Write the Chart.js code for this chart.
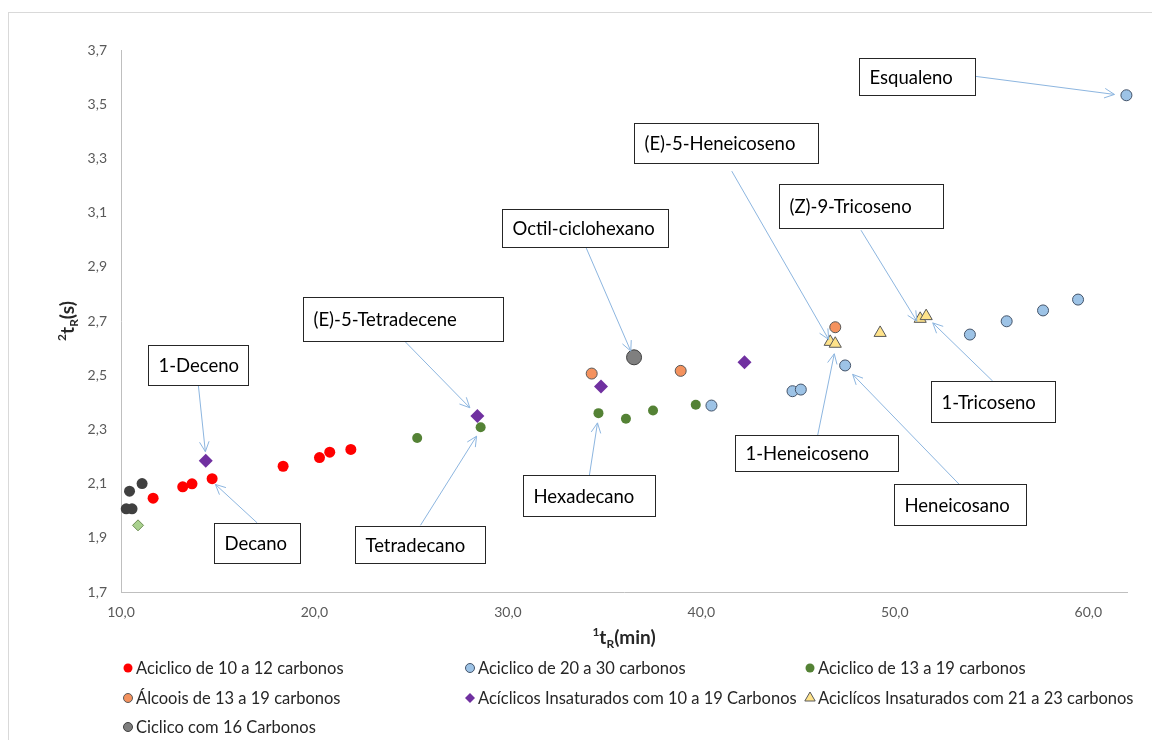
<!DOCTYPE html>
<html>
<head>
<meta charset="utf-8">
<script src="https://cdn.jsdelivr.net/npm/chart.js@4.4.1/dist/chart.umd.min.js"></script>
<style>
  html, body { margin: 0; padding: 0; background: #fff; }
  #wrap { position: relative; width: 1152px; height: 740px; overflow: hidden; }
</style>
</head>
<body>
<div id="wrap"><canvas id="chart" width="1152" height="740"></canvas></div>
<script>
// 1tR (min) / 2tR (s) por classe de composto
const acicl10_12X = [11.66, 13.19, 13.67, 14.71, 18.38, 20.26, 20.79, 21.88];
const acicl10_12Y = [2.046, 2.088, 2.099, 2.118, 2.164, 2.196, 2.216, 2.226];
const acicl20_30X = [40.52, 44.71, 45.14, 47.43, 53.88, 55.78, 57.66, 59.47, 61.97];
const acicl20_30Y = [2.388, 2.441, 2.447, 2.536, 2.650, 2.699, 2.739, 2.779, 3.533];
const acicl13_19X = [25.31, 28.59, 34.68, 36.10, 37.50, 39.71];
const acicl13_19Y = [2.268, 2.308, 2.360, 2.339, 2.370, 2.391];
const alcooisX = [34.33, 38.93, 46.92];
const alcooisY = [2.506, 2.516, 2.677];
const insat10_19X = [14.38, 28.42, 34.81, 42.23];
const insat10_19Y = [2.184, 2.349, 2.458, 2.548];
const insat21_23X = [46.66, 46.92, 49.24, 51.31, 51.62];
const insat21_23Y = [2.623, 2.616, 2.656, 2.708, 2.718];
const ciclico16X = [36.52];
const ciclico16Y = [2.566];
// series sem entrada na legenda
const semLegendaX = [10.27, 10.57, 10.44, 11.09];
const semLegendaY = [2.007, 2.007, 2.072, 2.100];
const semLegenda2X = [10.88];
const semLegenda2Y = [1.946];

const xTicks = [10, 20, 30, 40, 50, 60];
const yTicks = [1.7, 1.9, 2.1, 2.3, 2.5, 2.7, 2.9, 3.1, 3.3, 3.5, 3.7];

// caixas de texto (canto superior esquerdo em unidades do grafico) e setas
const anotacoes = [
  { text: 'Esqualeno', box: [48.14, 3.672], w: 116, h: 37, from: [54.14, 3.603], to: [61.35, 3.536] },
  { text: '(E)-5-Heneicoseno', box: [36.50, 3.432], w: 184, h: 40, from: [41.57, 3.253], to: [46.58, 2.632] },
  { text: '(Z)-9-Tricoseno', box: [44.00, 3.204], w: 164, h: 44, from: [48.25, 3.035], to: [51.14, 2.699] },
  { text: 'Octil-ciclohexano', box: [29.67, 3.115], w: 166, h: 38, from: [34.02, 2.974], to: [36.35, 2.589] },
  { text: '(E)-5-Tetradecene', box: [19.43, 2.787], w: 200, h: 44, from: [24.67, 2.625], to: [28.03, 2.380] },
  { text: '1-Deceno', box: [11.41, 2.613], w: 100, h: 40, from: [14.00, 2.462], to: [14.36, 2.218] },
  { text: 'Decano', box: [14.83, 1.956], w: 86, h: 40, from: [17.04, 1.955], to: [14.88, 2.097] },
  { text: 'Tetradecano', box: [22.07, 1.945], w: 130, h: 37, from: [25.48, 1.946], to: [28.38, 2.275] },
  { text: 'Hexadecano', box: [30.76, 2.130], w: 132, h: 41, from: [34.21, 2.130], to: [34.63, 2.324] },
  { text: '1-Heneicoseno', box: [41.73, 2.278], w: 163, h: 36, from: [46.01, 2.278], to: [46.87, 2.579] },
  { text: 'Heneicosano', box: [49.95, 2.097], w: 132, h: 41, from: [53.33, 2.097], to: [47.82, 2.503] },
  { text: '1-Tricoseno', box: [51.87, 2.477], w: 124, h: 41, from: [55.06, 2.478], to: [51.96, 2.693] }
];

const pts = (xs, ys) => xs.map((x, i) => ({ x: x, y: ys[i] }));
const FONT = 'Lato, "Open Sans", sans-serif';

const datasets = [
  { label: 'Aciclico de 10 a 12 carbonos', data: pts(acicl10_12X, acicl10_12Y), pointStyle: 'circle', radius: 5.5,
    backgroundColor: '#FF0000', borderColor: '#FF0000', borderWidth: 0, legenda: true },
  { label: 'Aciclico de 20 a 30 carbonos', data: pts(acicl20_30X, acicl20_30Y), pointStyle: 'circle', radius: 5.5,
    backgroundColor: '#9DC3E6', borderColor: '#44546A', borderWidth: 1, legenda: true },
  { label: 'Aciclico de 13 a 19 carbonos', data: pts(acicl13_19X, acicl13_19Y), pointStyle: 'circle', radius: 5,
    backgroundColor: '#548235', borderColor: '#548235', borderWidth: 0, legenda: true },
  { label: 'Álcoois de 13 a 19 carbonos', data: pts(alcooisX, alcooisY), pointStyle: 'circle', radius: 5.5,
    backgroundColor: '#F4925E', borderColor: '#595959', borderWidth: 1, legenda: true },
  { label: 'Acíclicos Insaturados com 10 a 19 Carbonos', data: pts(insat10_19X, insat10_19Y), pointStyle: 'rectRot', radius: 7,
    backgroundColor: '#7030A0', borderColor: '#7030A0', borderWidth: 0, legenda: true },
  { label: 'Aciclícos Insaturados com 21 a 23 carbonos', data: pts(insat21_23X, insat21_23Y), pointStyle: 'triangle', radius: 7,
    backgroundColor: '#FFE38A', borderColor: '#595959', borderWidth: 1, legenda: true },
  { label: 'Ciclico com 16 Carbonos', data: pts(ciclico16X, ciclico16Y), pointStyle: 'circle', radius: 7.5,
    backgroundColor: '#7F7F7F', borderColor: '#404040', borderWidth: 1, legenda: true },
  { label: 'sem legenda 1', data: pts(semLegendaX, semLegendaY), pointStyle: 'circle', radius: 5.5,
    backgroundColor: '#404040', borderColor: '#404040', borderWidth: 0, legenda: false },
  { label: 'sem legenda 2', data: pts(semLegenda2X, semLegenda2Y), pointStyle: 'rectRot', radius: 5.5,
    backgroundColor: '#A9D18E', borderColor: '#6E8F55', borderWidth: 1, legenda: false }
];
datasets.forEach(d => {
  d.pointRadius = d.radius;
  d.pointHoverRadius = d.radius;
  d.pointBorderWidth = d.borderWidth;
  d.clip = false;
});

function richText(ctx, parts, cx, cy) {
  const big = 'bold 19px ' + FONT, small = 'bold 12px ' + FONT;
  let total = 0;
  parts.forEach(p => { ctx.font = p.s ? small : big; p.w = ctx.measureText(p.t).width; total += p.w; });
  let x = cx - total / 2;
  ctx.textBaseline = 'alphabetic';
  ctx.textAlign = 'left';
  parts.forEach(p => {
    ctx.font = p.s ? small : big;
    const dy = p.s === 'sup' ? -8 : (p.s === 'sub' ? 4 : 0);
    ctx.fillText(p.t, x, cy + 7 + dy);
    x += p.w;
  });
}

const extras = {
  id: 'extras',
  beforeDraw(chart) {
    const ctx = chart.ctx;
    ctx.save();
    ctx.fillStyle = '#fff';
    ctx.fillRect(0, 0, chart.width, chart.height);
    ctx.strokeStyle = '#D9D9D9';
    ctx.lineWidth = 1;
    ctx.strokeRect(8.5, 12.5, 1300, 900);
    ctx.restore();
  },
  afterDraw(chart) {
    const ctx = chart.ctx, xs = chart.scales.x, ys = chart.scales.y, area = chart.chartArea;
    ctx.save();
    // titulos dos eixos
    ctx.fillStyle = '#262626';
    richText(ctx, [{ t: '1', s: 'sup' }, { t: 't' }, { t: 'R', s: 'sub' }, { t: '(min)' }], (area.left + area.right) / 2, 637);
    ctx.save();
    ctx.translate(67, (area.top + area.bottom) / 2);
    ctx.rotate(-Math.PI / 2);
    richText(ctx, [{ t: '2', s: 'sup' }, { t: 't' }, { t: 'R', s: 'sub' }, { t: '(s)' }], 0, 0);
    ctx.restore();

    // setas e caixas
    anotacoes.forEach(a => {
      const x1 = xs.getPixelForValue(a.from[0]), y1 = ys.getPixelForValue(a.from[1]);
      const x2 = xs.getPixelForValue(a.to[0]), y2 = ys.getPixelForValue(a.to[1]);
      ctx.strokeStyle = '#8DB6E0';
      ctx.lineWidth = 1;
      ctx.beginPath();
      ctx.moveTo(x1, y1);
      ctx.lineTo(x2, y2);
      const ang = Math.atan2(y2 - y1, x2 - x1);
      [-0.45, 0.45].forEach(da => {
        ctx.moveTo(x2, y2);
        ctx.lineTo(x2 - 11 * Math.cos(ang + da), y2 - 11 * Math.sin(ang + da));
      });
      ctx.stroke();

      const bx = Math.round(xs.getPixelForValue(a.box[0])) + 0.5;
      const by = Math.round(ys.getPixelForValue(a.box[1])) + 0.5;
      ctx.fillStyle = '#fff';
      ctx.fillRect(bx, by, a.w, a.h);
      ctx.strokeStyle = '#262626';
      ctx.strokeRect(bx, by, a.w, a.h);
      ctx.fillStyle = '#000';
      ctx.font = '18.5px ' + FONT;
      ctx.textAlign = 'left';
      ctx.textBaseline = 'middle';
      ctx.fillText(a.text, bx + 10, by + a.h / 2 + 1);
    });

    // legenda em tres colunas
    const cols = [128, 470, 810], rows = [668, 698, 727];
    chart.data.datasets.filter(d => d.legenda).forEach((d, i) => {
      const cx = cols[i % 3], cy = rows[Math.floor(i / 3)];
      ctx.fillStyle = d.backgroundColor;
      ctx.strokeStyle = d.borderColor;
      ctx.lineWidth = d.borderWidth;
      const r = d.pointStyle === 'triangle' ? 6 : (d.pointStyle === 'rectRot' ? 5 : 4.5);
      Chart.helpers.drawPoint(ctx, { pointStyle: d.pointStyle, radius: r, rotation: 0, borderWidth: d.borderWidth }, cx, cy);
      ctx.fillStyle = '#262626';
      ctx.font = '16.5px ' + FONT;
      ctx.textAlign = 'left';
      ctx.textBaseline = 'middle';
      ctx.fillText(d.label, cx + 8, cy + 1);
    });
    ctx.restore();
  }
};

const fmt = v => Number(v).toFixed(1).replace('.', ',');

new Chart(document.getElementById('chart'), {
  type: 'scatter',
  data: { datasets: datasets },
  options: {
    responsive: false,
    animation: false,
    layout: { padding: { top: 50, right: 25, left: 0, bottom: 0 } },
    plugins: { legend: { display: false }, tooltip: { enabled: false } },
    scales: {
      x: {
        type: 'linear', position: 'bottom', min: 10, max: 62,
        afterBuildTicks: s => { s.ticks = xTicks.map(v => ({ value: v })); },
        afterFit: s => { s.height = 148; },
        grid: { display: false, drawTicks: false },
        border: { display: true, color: '#BFBFBF', width: 1 },
        ticks: { padding: 12, color: '#595959', font: { family: FONT, size: 14 }, callback: fmt, maxRotation: 0 }
      },
      y: {
        type: 'linear', position: 'left', min: 1.7, max: 3.7,
        afterBuildTicks: s => { s.ticks = yTicks.map(v => ({ value: v })); },
        afterFit: s => { s.width = 121; },
        grid: { display: false, drawTicks: false },
        border: { display: true, color: '#BFBFBF', width: 1 },
        ticks: { padding: 14, color: '#595959', font: { family: FONT, size: 14 }, callback: fmt }
      }
    }
  },
  plugins: [extras]
});
</script>
</body>
</html>
